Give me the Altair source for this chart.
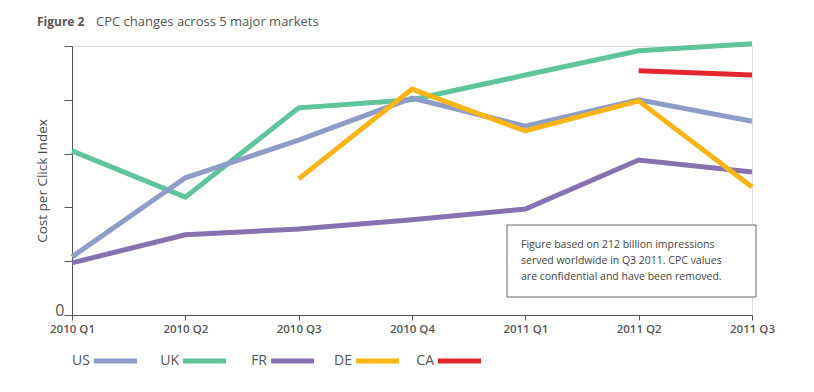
import altair as alt
import pandas as pd

quarters = ["2010 Q1", "2010 Q2", "2010 Q3", "2010 Q4", "2011 Q1", "2011 Q2", "2011 Q3"]
us = [1.08, 2.55, 3.25, 4.03, 3.51, 4.00, 3.60]
uk = [3.05, 2.19, 3.85, 4.00, 4.46, 4.91, 5.04]
fr = [0.97, 1.49, 1.60, 1.77, 1.97, 2.88, 2.66]
de = [None, None, 2.53, 4.20, 3.42, 3.98, 2.38]
ca = [None, None, None, None, None, 4.54, 4.46]

series = ["US", "UK", "FR", "DE", "CA"]
colors = ["#8E9DC7", "#5DC49B", "#8671B1", "#F9B516", "#E2262E"]
draw_order = ["UK", "US", "FR", "DE", "CA"]

note_lines = [
    "Figure based on 212 billion impressions",
    "served worldwide in Q3 2011. CPC values",
    "are confidential and have been removed.",
]

rows = []
for name, vals in zip(series, [us, uk, fr, de, ca]):
    for q, v in zip(quarters, vals):
        if v is not None:
            rows.append({"quarter": q, "value": v, "series": name})
df = pd.DataFrame(rows)

FONT = "Open Sans"
GRAY = "#555555"
W, H = 680, 269

x_enc = alt.X("quarter:O", sort=quarters,
              scale=alt.Scale(type="point", padding=0),
              axis=alt.Axis(title=None, labelAngle=0, labelFont=FONT, labelFontSize=11.5,
                            labelFontWeight=600, labelColor=GRAY, domainColor=GRAY,
                            tickColor=GRAY, tickSize=5, labelPadding=3, grid=False))
y_enc = alt.Y("value:Q", scale=alt.Scale(domain=[0, 5], nice=False, zero=True),
              axis=alt.Axis(title="Cost per Click Index", titleFont=FONT, titleFontSize=13.5,
                            titleFontWeight="normal", titleColor="#4a4a4a", titlePadding=5,
                            values=[0, 1, 2, 3, 4, 5], labelExpr="datum.value == 0 ? '0' : ''",
                            labelFont=FONT, labelFontSize=16, labelColor=GRAY,
                            labelBaseline="alphabetic", labelOffset=0,
                            labelPadding=0, tickSize=8, tickColor=GRAY,
                            domainColor=GRAY, grid=False))

layers = []
for name in draw_order:
    c = colors[series.index(name)]
    layers.append(
        alt.Chart(df[df.series == name]).mark_line(strokeWidth=5, color=c, clip=False)
        .encode(x=x_enc, y=y_enc)
    )

# Note box
box = alt.Chart(pd.DataFrame({"a": [0]})).mark_rect(
    fill="white", stroke="#666666", strokeWidth=1
).encode(x=alt.value(435), x2=alt.value(684), y=alt.value(179), y2=alt.value(251))

note = []
for i, line in enumerate(note_lines):
    note.append(alt.Chart(pd.DataFrame({"t": [line]})).mark_text(
        align="left", baseline="middle", font=FONT, fontSize=10.5, color="#444444"
    ).encode(x=alt.value(449), y=alt.value(199 + i * 16), text="t:N"))

# Title
title1 = alt.Chart(pd.DataFrame({"t": ["Figure 2"]})).mark_text(
    align="left", baseline="middle", font=FONT, fontSize=12, fontWeight="bold", color=GRAY
).encode(x=alt.value(-35), y=alt.value(-24), text="t:N")
title2 = alt.Chart(pd.DataFrame({"t": ["CPC changes across 5 major markets"]})).mark_text(
    align="left", baseline="middle", font=FONT, fontSize=13, color=GRAY
).encode(x=alt.value(24), y=alt.value(-24), text="t:N")

# Legend
leg_layers = []
leg_x = [22, 111, 199, 284, 366]
for name, c, lx in zip(series, colors, leg_x):
    d = pd.DataFrame({"s": [name]})
    leg_layers.append(alt.Chart(d).mark_text(
        align="right", baseline="middle", font=FONT, fontSize=14, color=GRAY
    ).encode(x=alt.value(lx - 4), y=alt.value(H + 46), text="s:N"))
    leg_layers.append(alt.Chart(d).mark_rule(strokeWidth=5, color=c).encode(
        x=alt.value(lx), x2=alt.value(lx + 43), y=alt.value(H + 46)))

chart = alt.layer(*layers, box, *note, title1, title2, *leg_layers).properties(
    width=W, height=H,
    autosize=alt.AutoSizeParams(type="none"),
    padding={"left": 64, "top": 38, "right": 50, "bottom": 60},
).configure_view(stroke=None).configure(background="white")

chart.save("out.html", embed_options={"renderer": "svg", "actions": False})
